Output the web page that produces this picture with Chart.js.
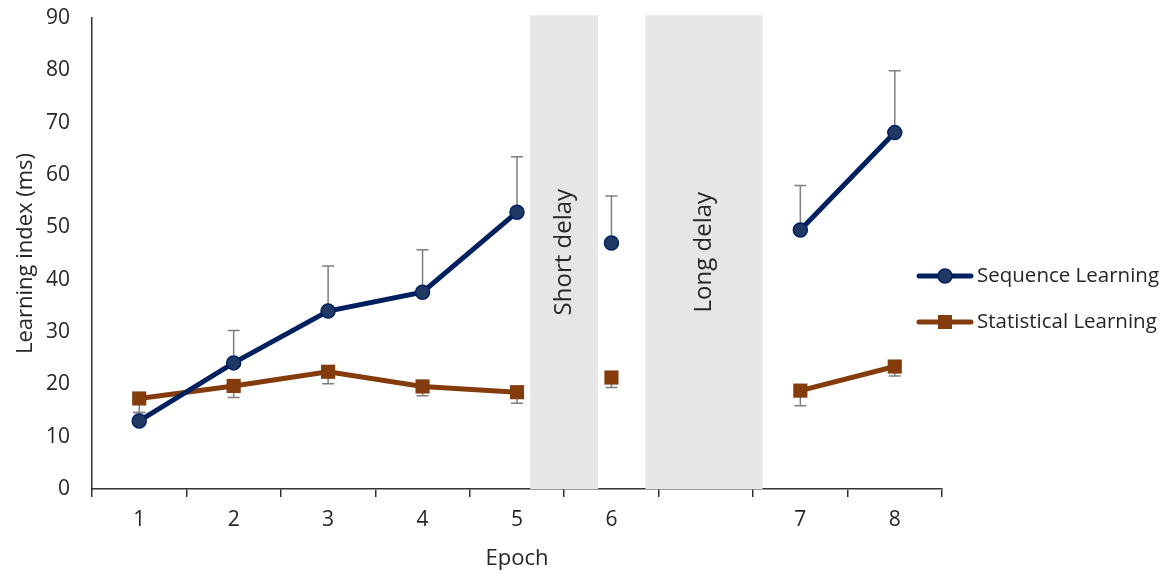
<!DOCTYPE html>
<html>
<head>
<meta charset="utf-8">
<script src="https://cdn.jsdelivr.net/npm/chart.js@4.4.1/dist/chart.umd.min.js"></script>
<style>
  html, body { margin: 0; padding: 0; background: #fff; }
  #wrap { width: 1169px; height: 574px; position: relative; }
</style>
</head>
<body>
<div id="wrap"><canvas id="chart"></canvas></div>
<script>
// data
const epochs = ['1', '2', '3', '4', '5', '6', '', '7', '8'];
const sequenceMeans = [13.0, 24.1, 34.0, 37.6, 52.9, 47.0, null, 49.5, 68.1];
const sequenceErrors = [1.6, 6.2, 8.6, 8.1, 10.6, 9.0, null, 8.5, 11.8];
const statisticalMeans = [17.3, 19.7, 22.4, 19.6, 18.5, 21.3, null, 18.8, 23.4];
const statisticalErrors = [2.7, 2.2, 2.3, 1.8, 2.1, 1.9, null, 2.9, 1.8];
const yTicks = [0, 10, 20, 30, 40, 50, 60, 70, 80, 90];
// no connecting line after these indexes (epoch 5 -> 6)
const lineBreaks = [4];
// grey delay bands, in category index units
const delayLabels = ['Short delay', 'Long delay'];
const delayStarts = [4.14, 5.36];
const delayEnds = [4.86, 6.6];
const delayTop = 90.5;

const FONT = 'Open Sans';
const TEXT = '#262626';
const SEQ_LINE = '#002060';
const SEQ_FILL = '#1F3864';
const STAT = '#843C0C';
const ERR = '#7F7F7F';

const delayBands = {
  id: 'delayBands',
  beforeDatasetsDraw(chart) {
    const {ctx, scales: {x, y}} = chart;
    ctx.save();
    delayLabels.forEach((label, i) => {
      const x0 = x.getPixelForValue(delayStarts[i]);
      const x1 = x.getPixelForValue(delayEnds[i]);
      const yTop = y.getPixelForValue(delayTop);
      const yBot = y.getPixelForValue(0);
      ctx.fillStyle = '#E6E6E6';
      ctx.fillRect(x0, yTop, x1 - x0, yBot - yTop);
      ctx.save();
      ctx.translate((x0 + x1) / 2, (yTop + yBot) / 2);
      ctx.rotate(-Math.PI / 2);
      ctx.fillStyle = TEXT;
      ctx.font = '24px "' + FONT + '"';
      ctx.textAlign = 'center';
      ctx.textBaseline = 'middle';
      ctx.fillText(label, 0, 0);
      ctx.restore();
    });
    ctx.restore();
  }
};

const errorBars = {
  id: 'errorBars',
  beforeDatasetsDraw(chart) {
    const {ctx} = chart;
    ctx.save();
    ctx.strokeStyle = ERR;
    ctx.lineWidth = 1.5;
    chart.data.datasets.forEach((ds, di) => {
      const meta = chart.getDatasetMeta(di);
      const yScale = chart.scales.y;
      meta.data.forEach((pt, i) => {
        const v = ds.data[i];
        const e = ds.errors[i];
        if (v == null || e == null) return;
        const end = yScale.getPixelForValue(v + ds.errorDir * e);
        ctx.beginPath();
        ctx.moveTo(pt.x, pt.y);
        ctx.lineTo(pt.x, end);
        ctx.moveTo(pt.x - 6, end);
        ctx.lineTo(pt.x + 6, end);
        ctx.stroke();
      });
    });
    ctx.restore();
  }
};

const sideLegend = {
  id: 'sideLegend',
  afterDraw(chart) {
    const {ctx} = chart;
    const rows = [276, 322];
    ctx.save();
    chart.data.datasets.forEach((ds, i) => {
      const yy = rows[i];
      ctx.strokeStyle = ds.borderColor;
      ctx.lineWidth = 5;
      ctx.lineCap = 'round';
      ctx.beginPath();
      ctx.moveTo(919, yy);
      ctx.lineTo(971, yy);
      ctx.stroke();
      ctx.fillStyle = ds.pointBackgroundColor;
      ctx.strokeStyle = ds.pointBorderColor;
      ctx.lineWidth = 1.5;
      if (ds.pointStyle === 'circle') {
        ctx.beginPath();
        ctx.arc(945, yy, 7, 0, Math.PI * 2);
        ctx.fill();
        ctx.stroke();
      } else {
        ctx.fillRect(938, yy - 7, 14, 14);
      }
      ctx.fillStyle = TEXT;
      ctx.font = '20.5px "' + FONT + '"';
      ctx.textAlign = 'left';
      ctx.textBaseline = 'middle';
      ctx.fillText(ds.label, 977, yy);
    });
    ctx.restore();
  }
};

const breakSegment = c => lineBreaks.includes(c.p0DataIndex) ? 'transparent' : undefined;

new Chart(document.getElementById('chart'), {
  type: 'line',
  data: {
    labels: epochs,
    datasets: [
      {
        label: 'Sequence Learning',
        data: sequenceMeans,
        errors: sequenceErrors,
        errorDir: 1,
        borderColor: SEQ_LINE,
        borderWidth: 5,
        pointStyle: 'circle',
        pointRadius: 7,
        pointBackgroundColor: SEQ_FILL,
        pointBorderColor: SEQ_LINE,
        pointBorderWidth: 1.5,
        spanGaps: false,
        segment: { borderColor: breakSegment }
      },
      {
        label: 'Statistical Learning',
        data: statisticalMeans,
        errors: statisticalErrors,
        errorDir: -1,
        borderColor: STAT,
        borderWidth: 5,
        pointStyle: 'rect',
        pointRadius: 10,
        pointBackgroundColor: STAT,
        pointBorderColor: STAT,
        pointBorderWidth: 0,
        spanGaps: false,
        segment: { borderColor: breakSegment }
      }
    ]
  },
  options: {
    responsive: true,
    maintainAspectRatio: false,
    animation: false,
    layout: { padding: { top: 18, right: 227, bottom: 0, left: 0 } },
    plugins: {
      legend: { display: false },
      tooltip: { enabled: false }
    },
    scales: {
      x: {
        offset: true,
        grid: { offset: true, drawOnChartArea: false, drawTicks: true, tickLength: 8, color: '#333', lineWidth: 1.5 },
        border: { display: true, color: '#333', width: 1.5 },
        ticks: { color: TEXT, font: { family: FONT, size: 21 }, padding: 10, maxRotation: 0 },
        title: { display: true, text: 'Epoch', color: TEXT, font: { family: FONT, size: 22 }, padding: { top: 0, bottom: 2 } },
        afterFit: s => { s.height = 85; s.paddingLeft = 0; s.paddingRight = 0; }
      },
      y: {
        min: 0,
        max: 90,
        afterBuildTicks: s => { s.ticks = yTicks.map(v => ({ value: v })); },
        grid: { display: false, drawTicks: false },
        border: { display: true, color: '#333', width: 1.5 },
        ticks: { color: TEXT, font: { family: FONT, size: 21 }, padding: 22 },
        title: { display: true, text: 'Learning index (ms)', color: TEXT, font: { family: FONT, size: 22 }, padding: { top: 13, bottom: 0 } },
        afterFit: s => { s.width = 92; s.paddingTop = 0; s.paddingBottom = 0; }
      }
    }
  },
  plugins: [delayBands, errorBars, sideLegend]
});
</script>
</body>
</html>
